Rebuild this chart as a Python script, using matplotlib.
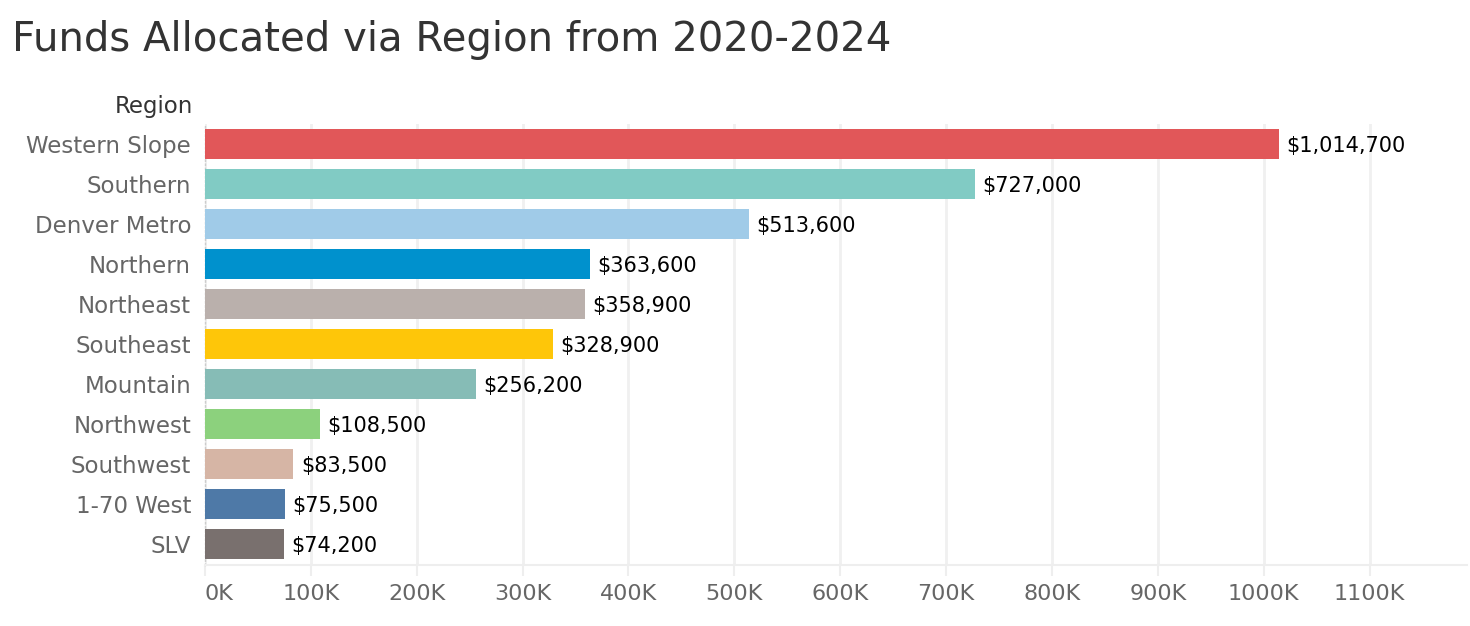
import matplotlib.pyplot as plt
from matplotlib.ticker import FuncFormatter

regions = ["Western Slope", "Southern", "Denver Metro", "Northern", "Northeast",
           "Southeast", "Mountain", "Northwest", "Southwest", "1-70 West", "SLV"]
funds = [1014700, 727000, 513600, 363600, 358900, 328900, 256200, 108500, 83500, 75500, 74200]
colors = ["#E15759", "#81CBC4", "#A0CBE8", "#0091CD", "#BAB0AC", "#FEC609",
          "#86BCB6", "#8CD17D", "#D6B5A5", "#4E79A7", "#79706E"]
xticks = list(range(0, 1100001, 100000))

plt.rcParams['font.family'] = ['DejaVu Sans']

fig = plt.figure(figsize=(14.7, 6.26), dpi=100)
ax = fig.add_axes([205 / 1470, 61 / 626, 1262 / 1470, 441 / 626])

y = list(range(len(regions)))
ax.barh(y, funds, height=0.75, color=colors, zorder=3)
for yi, v in zip(y, funds):
    ax.text(v + 7000, yi, f"${v:,}", va="center_baseline", ha="left", fontsize=15, color="black")

ax.set_ylim(10.525, -0.5)
ax.set_xlim(0, 1192000)
ax.set_yticks(y)
ax.set_yticklabels(regions, fontsize=16.5, color="#666666")
ax.set_xticks(xticks)
ax.xaxis.set_major_formatter(FuncFormatter(lambda v, p: f"{int(v / 1000)}K"))
ax.tick_params(axis="x", labelsize=16, labelcolor="#666666", length=8, color="#eeeeee", width=1.5, pad=6)
ax.tick_params(axis="y", length=0, pad=10)
ax.get_xticklabels()[0].set_ha("left")

ax.grid(axis="x", color="#f0f0f0", linewidth=2, zorder=0)
for s in ["top", "right"]:
    ax.spines[s].set_visible(False)
ax.spines["bottom"].set_color("#eeeeee")
ax.spines["bottom"].set_linewidth(1.5)
ax.spines["left"].set_color("#cccccc")
ax.spines["left"].set_linestyle((0, (1, 2)))
ax.spines["left"].set_linewidth(1)

fig.text(193 / 1470, 1 - 107 / 626, "Region", ha="right", va="center", fontsize=16.5, color="#333333")
fig.text(12 / 1470, 1 - 40 / 626, "Funds Allocated via Region from 2020-2024", ha="left", va="center",
         fontsize=29, color="#333333")

fig.savefig("out.png", dpi=100)
